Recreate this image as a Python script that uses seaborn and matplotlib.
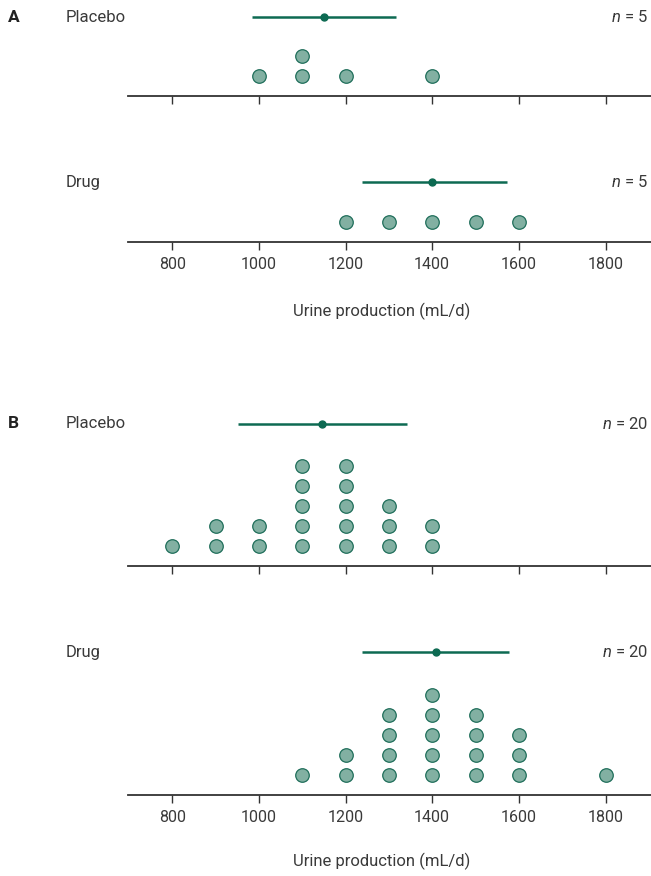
import matplotlib
matplotlib.use("Agg")
import matplotlib.pyplot as plt
import seaborn as sns
import numpy as np
import pandas as pd

# ---- data ----
a_placebo = [1000, 1100, 1100, 1200, 1400]
a_drug = [1200, 1300, 1400, 1500, 1600]

b_placebo = [800,
             900, 900,
             1000, 1000,
             1100, 1100, 1100, 1100, 1100,
             1200, 1200, 1200, 1200, 1200,
             1300, 1300, 1300,
             1400, 1400]
b_drug = [1100,
          1200, 1200,
          1300, 1300, 1300, 1300,
          1400, 1400, 1400, 1400, 1400,
          1500, 1500, 1500, 1500,
          1600, 1600, 1600,
          1800]

# mean and the ends of the horizontal bar for each group
a_placebo_bar = (1150, 985, 1316)
a_drug_bar = (1400, 1238, 1572)
b_placebo_bar = (1145, 951, 1341)
b_drug_bar = (1408, 1239, 1578)

group_names = ["Placebo", "Drug", "Placebo", "Drug"]
panel_letters = ["A", None, "B", None]
xticks = [800, 1000, 1200, 1400, 1600, 1800]
xlabel = "Urine production (mL/d)"

# ---- layout (pixels in a 651x876 figure) ----
W, H = 651, 876
DOT_STEP = 20  # px between stacked dots
# (axes top px, spine px, bar px, x label px or None)
layout = [(0, 96, 17, None),
          (150, 242, 182, 311),
          (400, 566, 424, None),
          (630, 795, 652, 861)]
AX_LEFT, AX_RIGHT = 128, 651

fill = "#82b0a2"
edge = "#1f6e5a"
bar_col = "#0d6a52"
txt = "#3a3a3a"

sns.set_theme(style="white")
plt.rcParams["font.family"] = ["Roboto", "DejaVu Sans"]
plt.rcParams["mathtext.fontset"] = "custom"
plt.rcParams["mathtext.it"] = "Roboto:italic"
plt.rcParams["mathtext.rm"] = "Roboto"

fig = plt.figure(figsize=(W / 100, H / 100), dpi=100)

groups = [a_placebo, a_drug, b_placebo, b_drug]
bars = [a_placebo_bar, a_drug_bar, b_placebo_bar, b_drug_bar]

for vals, bar, name, letter, (top, spine, bar_y, label_y) in zip(
        groups, bars, group_names, panel_letters, layout):
    ax = fig.add_axes([AX_LEFT / W, 1 - spine / H,
                       (AX_RIGHT - AX_LEFT) / W, (spine - top) / H])
    df = pd.DataFrame({"value": vals})
    df["level"] = df.groupby("value").cumcount() + 1

    sns.scatterplot(data=df, x="value", y="level", ax=ax, s=95,
                    color=fill, edgecolor=edge, linewidth=0.9,
                    clip_on=False, zorder=3)

    level_bar = (spine - bar_y) / DOT_STEP
    mean, lo, hi = bar
    ax.hlines(level_bar, lo, hi, color=bar_col, lw=1.8, clip_on=False)
    ax.plot([mean], [level_bar], "o", color=bar_col, ms=5, clip_on=False)

    ax.set_xlim(698, 1905)
    ax.set_ylim(0, (spine - top) / DOT_STEP)
    ax.set_xticks(xticks)
    ax.set_yticks([])
    ax.set_xlabel("")
    ax.set_ylabel("")
    sns.despine(ax=ax, left=True, top=True, right=True)
    ax.spines["bottom"].set_color("#333333")
    ax.spines["bottom"].set_linewidth(1.3)
    ax.tick_params(axis="x", direction="out", length=6, width=1,
                   color="#333333", bottom=True, labelsize=11.5,
                   labelcolor=txt, pad=5, labelbottom=label_y is not None)

    ax.annotate(name, xy=(66 / W, level_bar),
                xycoords=("figure fraction", "data"),
                ha="left", va="center", fontsize=12, color=txt,
                annotation_clip=False)
    ax.annotate(f"$n$ = {len(vals)}", xy=(648 / W, level_bar),
                xycoords=("figure fraction", "data"),
                ha="right", va="center", fontsize=12, color=txt,
                annotation_clip=False)
    if letter:
        ax.annotate(letter, xy=(8 / W, level_bar),
                    xycoords=("figure fraction", "data"),
                    ha="left", va="center", fontsize=12.5,
                    fontweight="bold", color="#222222",
                    annotation_clip=False)
    if label_y is not None:
        ax.set_xlabel(xlabel, fontsize=12, color=txt)
        ax.xaxis.set_label_coords((382 - AX_LEFT) / (AX_RIGHT - AX_LEFT),
                                  -(label_y - spine) / (spine - top))
        ax.xaxis.label.set_va("center")

fig.savefig("out.png", dpi=100)
